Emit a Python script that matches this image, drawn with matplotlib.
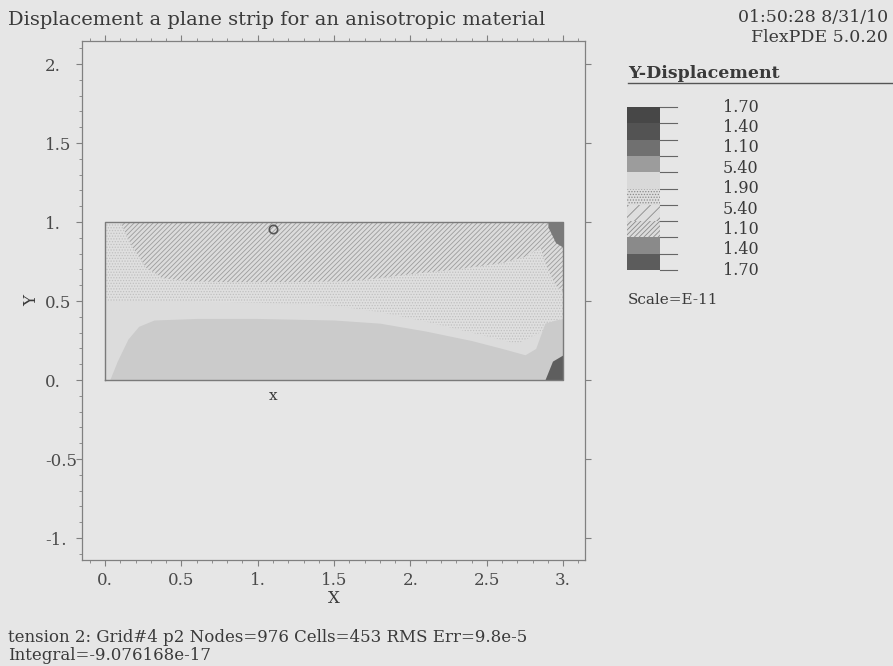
#! /usr/bin/env python3
# -*- coding: utf-8 -*-
"""FlexPDE style contour plot: Y-displacement of a plane strip."""
import matplotlib
matplotlib.use("Agg")
import matplotlib.pyplot as plt

W, H = 893, 666
BG = "#e6e6e6"
INK = "#3a3a3a"
FONT = "DejaVu Serif"

# Axis ticks
X_TICKS = [0.0, 0.5, 1.0, 1.5, 2.0, 2.5, 3.0]
X_LABELS = ["0.", "0.5", "1.", "1.5", "2.", "2.5", "3."]
Y_TICKS = [-1.0, -0.5, 0.0, 0.5, 1.0, 1.5, 2.0]
Y_LABELS = ["-1.", "-0.5", "0.", "0.5", "1.", "1.5", "2."]

# Strip domain
STRIP_X = [0.0, 3.0]
STRIP_Y = [0.0, 1.0]

# Lower edge of the densely hatched top zone
HATCH_X = [0.10, 0.18, 0.27, 0.38, 0.55, 0.8, 1.2, 1.6, 1.8, 2.0, 2.3,
           2.6, 2.75, 2.85, 2.90, 2.95, 3.0]
HATCH_LOW = [1.0, 0.84, 0.71, 0.645, 0.625, 0.62, 0.62, 0.625, 0.645, 0.67,
             0.70, 0.74, 0.78, 0.84, 0.70, 0.60, 0.56]

# Lower edge of the stippled band
STIP_X = [0.0, 0.5, 1.0, 1.5, 1.8, 2.1, 2.4, 2.7, 2.85, 3.0]
STIP_LOW = [0.50, 0.50, 0.49, 0.47, 0.43, 0.37, 0.30, 0.23, 0.30, 0.40]

# Upper edge of the grey zone along the bottom
GREY_X = [0.03, 0.08, 0.15, 0.22, 0.32, 0.6, 1.0, 1.5, 1.8, 2.1, 2.4, 2.6,
          2.75, 2.82, 2.88, 2.95, 3.0]
GREY_TOP = [0.0, 0.12, 0.26, 0.34, 0.38, 0.39, 0.39, 0.38, 0.36, 0.31, 0.25,
            0.20, 0.16, 0.20, 0.36, 0.38, 0.39]

# Dark corner patches on the right edge
TR_X = [2.90, 2.95, 3.0]
TR_LOW = [0.97, 0.87, 0.84]
BR_X = [2.88, 2.93, 3.0]
BR_TOP = [0.0, 0.12, 0.16]

# Extremum markers
MAX_PT = (1.1, 0.955)
MIN_PT = (1.1, -0.10)

# Legend
LEGEND_COLORS = ["#474747", "#535353", "#707070", "#9c9c9c", "#d9d9d9",
                 "#dedede", "#dedede", "#dcdcdc", "#8a8a8a", "#5c5c5c"]
LEGEND_HATCH = [None, None, None, None, None, "." * 6, "/" * 3, "/" * 7,
                None, None]
LEGEND_LABELS = ["1.70", "1.40", "1.10", "5.40", "1.90", "5.40", "1.10",
                 "1.40", "1.70"]

TITLE = "Displacement a plane strip for an anisotropic material"
STAMP = ["01:50:28 8/31/10", "FlexPDE 5.0.20"]
FOOTER = ["tension 2: Grid#4 p2 Nodes=976 Cells=453 RMS Err=9.8e-5",
          "Integral=-9.076168e-17"]


def fx(x):
    return x / W


def fy(y):
    return 1 - y / H


plt.rcParams["hatch.linewidth"] = 0.6
fig = plt.figure(figsize=(W / 100, H / 100), dpi=100, facecolor=BG)

# Main axes
axis = fig.add_axes([fx(82), fy(560), fx(585 - 82), (560 - 41) / H])
axis.set_facecolor(BG)
axis.set_xlim(-0.151, 3.143)
axis.set_ylim(-1.139, 2.146)
for spine in axis.spines.values():
    spine.set_color("#808080")
    spine.set_linewidth(0.9)
axis.set_xticks(X_TICKS)
axis.set_xticklabels(X_LABELS)
axis.set_yticks(Y_TICKS)
axis.set_yticklabels(Y_LABELS, ha="left")
axis.set_xticks([v / 10 for v in range(-1, 32)], minor=True)
axis.set_yticks([v / 10 for v in range(-11, 22)], minor=True)
axis.tick_params(which="both", direction="out", top=True, right=True,
                 color="#808080", labelcolor="#4a4a4a", labelsize=12,
                 labelfontfamily=FONT)
axis.tick_params(which="major", length=4.5)
axis.tick_params(which="minor", length=2, right=False)
axis.tick_params(axis="x", which="major", pad=4)
axis.tick_params(axis="y", which="major", pad=22.3)
axis.set_xlabel("X", fontsize=12, family=FONT, color=INK, labelpad=1)
axis.set_ylabel("Y", fontsize=12, family=FONT, color=INK)
axis.yaxis.set_label_coords(-0.083, 0.5)

# Contour zones
axis.fill_between(STRIP_X, STRIP_Y[0], STRIP_Y[1], color="#dcdcdc", lw=0)
axis.fill_between(STIP_X, STIP_LOW, 1.0, facecolor="#dfdfdf",
                  edgecolor="#c0c0c0", hatch="." * 6, lw=0)
axis.fill_between(HATCH_X, HATCH_LOW, 1.0, facecolor="#dcdcdc",
                  edgecolor="#9c9c9c", hatch="/" * 7, lw=0)
axis.fill_between(GREY_X, 0.0, GREY_TOP, color="#cbcbcb", lw=0)
axis.fill_between(TR_X, TR_LOW, 1.0, color="#7a7a7a", lw=0)
axis.fill_between(BR_X, 0.0, BR_TOP, color="#5e5e5e", lw=0)
axis.plot([STRIP_X[0], STRIP_X[1], STRIP_X[1], STRIP_X[0], STRIP_X[0]],
          [STRIP_Y[0], STRIP_Y[0], STRIP_Y[1], STRIP_Y[1], STRIP_Y[0]],
          color="#7a7a7a", lw=1.0)
axis.plot(*MAX_PT, marker="o", ms=6, mfc="none", mec="#555555", mew=1.2)
axis.text(*MIN_PT, "x", ha="center", va="center", fontsize=11,
          family=FONT, color=INK)

# Legend bars
leg = fig.add_axes([fx(627), fy(270), fx(660 - 627), (270 - 107) / H])
leg.set_xlim(0, 1)
leg.set_ylim(0, len(LEGEND_COLORS))
leg.axis("off")
for i, (col, hat) in enumerate(zip(LEGEND_COLORS, LEGEND_HATCH)):
    bottom = len(LEGEND_COLORS) - 1 - i
    leg.bar(0.5, 1, bottom=bottom, width=1, color=col, hatch=hat,
            edgecolor="#8a8a8a" if hat else col, lw=0)
for j in range(len(LEGEND_COLORS) + 1):
    leg.plot([1.0, 1.52], [j, j], color="#666666", lw=0.8, clip_on=False)

for i, lab in enumerate(LEGEND_LABELS):
    fig.text(fx(723), fy(107 + i * 20.4), lab, ha="left", va="center",
             fontsize=11.5, family=FONT, color=INK)

fig.text(fx(628), fy(73), "Y-Displacement", ha="left", va="center",
         fontsize=12.5, family=FONT, color=INK, weight="bold")
fig.add_artist(plt.Line2D([fx(628), fx(893)], [fy(83), fy(83)],
                          color="#555555", lw=1.0))
fig.text(fx(628), fy(300), "Scale=E-11", ha="left", va="center",
         fontsize=11, family=FONT, color=INK)

# Header and footer
fig.text(fx(8), fy(20), TITLE, ha="left", va="center", fontsize=14,
         family=FONT, color=INK)
for k, line in enumerate(STAMP):
    fig.text(fx(888), fy(17 + k * 20), line, ha="right", va="center",
             fontsize=12.5, family=FONT, color=INK)
for k, line in enumerate(FOOTER):
    fig.text(fx(8), fy(638 + k * 17), line, ha="left", va="center",
             fontsize=12, family=FONT, color=INK)

fig.savefig("out.png", dpi=100, facecolor=BG)
plt.close()
